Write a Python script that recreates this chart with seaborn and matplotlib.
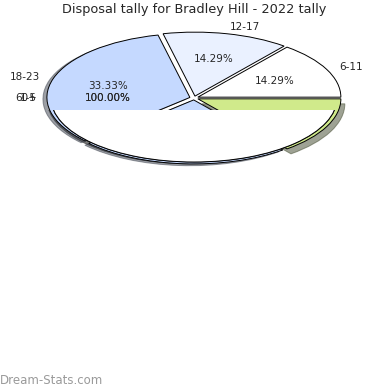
import matplotlib
matplotlib.use('Agg')
import matplotlib.pyplot as plt
import matplotlib.patches as mpatches
import seaborn as sns


# Values
age_groups = ['6-11', '12-17', '18-23', '', '']
shares = [14.29, 14.29, 33.33, 23.81, 14.29]

# second layer: single full slices drawn over the first pie
overlay_groups = ['60+', '1-5']
overlay_shares = [100.0]

title = 'Disposal tally for Bradley Hill - 2022 tally'
credit = 'Dream-Stats.com'

slice_cols = ['#ffffff', '#eaf1ff', '#c5d9ff', '#c5d9ff', '#d0ea8b']

sns.set_style('white')
plt.rcParams['font.family'] = ['DejaVu Sans']

fig = plt.figure(figsize=(3.9, 3.9), dpi=100)
ax = fig.add_axes([0, 0, 1, 1])

edge = {'edgecolor': 'black', 'linewidth': 0.7}

wedges, lbls, pcts = ax.pie(shares, labels=age_groups, colors=slice_cols,
                            explode=[0.03] * len(shares), autopct='%.2f%%',
                            startangle=0, labeldistance=1.1,
                            pctdistance=0.6, wedgeprops=edge,
                            textprops={'fontsize': 7.5})

# shadows only where the reference shows them
for w in wedges[2:4]:
    ax.add_patch(mpatches.Shadow(w, -0.02, -0.02))
# the last slice throws a longer shadow to the lower right
ax.add_patch(mpatches.Shadow(wedges[-1], 0.02, -0.056))

# everything below this line gets covered by the overlay
cut = mpatches.Rectangle((-3, -3), 6, 3 - 0.19, transform=ax.transData)

for grp in overlay_groups:
    w2, _, _ = ax.pie(overlay_shares, labels=[grp], colors=['white'],
                      autopct='%.2f%%', startangle=0, labeldistance=1.1,
                      pctdistance=0.6, wedgeprops=edge,
                      shadow={'ox': -0.02, 'oy': -0.02, 'zorder': 0.5},
                      textprops={'fontsize': 7.5})
    for w in w2:
        w.set_zorder(4)
        w.set_clip_on(True)
        w.set_clip_path(cut)
    for p in ax.patches:
        if isinstance(p, mpatches.Shadow) and p.patch in w2:
            p.set_clip_on(True)
            p.set_clip_path(cut)

ax.set_aspect('auto')
ax.set_xlim(-194 / 143, (390 - 194) / 143)
ax.set_ylim(-(390 - 98) / 64, 98 / 64)
ax.set_axis_off()

fig.text(194.5 / 390, 1 - 10 / 390, title, ha='center', va='center',
         fontsize=9.3)
fig.text(0, 1 - 380 / 390, credit, ha='left', va='center', fontsize=8.5,
         color='#9a9a9a')

fig.savefig('out.png', dpi=100)
